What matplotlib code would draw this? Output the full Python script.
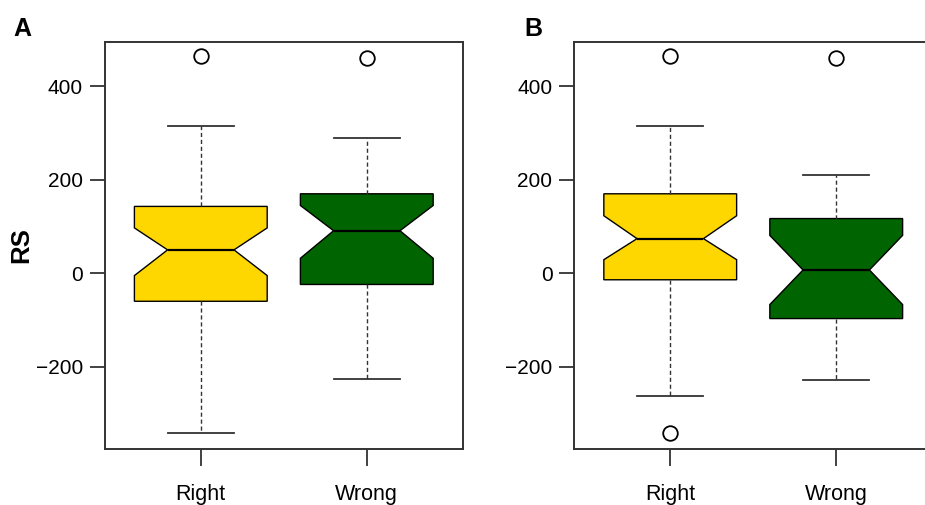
import matplotlib
matplotlib.use("Agg")
from matplotlib import pyplot as plt

plt.rcParams['font.family'] = ['Liberation Sans', 'DejaVu Sans']

groups = ["Right", "Wrong"]
box_colors = ["#FFD700", "#006400"]

# panel A: five-number summaries, notch limits and outliers
a_q1 = [-60, -24]
a_med = [50, 91]
a_q3 = [143, 170]
a_cilo = [-5, 32]
a_cihi = [97, 145]
a_whislo = [-341, -226]
a_whishi = [314, 290]
a_fliers = [[464], [461]]

# panel B
b_q1 = [-14, -97]
b_med = [74, 7]
b_q3 = [170, 117]
b_cilo = [29, -67]
b_cihi = [123, 81]
b_whislo = [-263, -228]
b_whishi = [314, 210]
b_fliers = [[464, -342], [461]]


def make_stats(q1, med, q3, cilo, cihi, whislo, whishi, fliers):
    stats = []
    for i in range(len(groups)):
        stats.append(dict(label=groups[i], q1=q1[i], med=med[i], q3=q3[i],
                          cilo=cilo[i], cihi=cihi[i], whislo=whislo[i],
                          whishi=whishi[i], fliers=fliers[i]))
    return stats


def draw_panel(ax, stats):
    bp = ax.bxp(stats, positions=[1, 2], widths=0.8, shownotches=True,
                patch_artist=True,
                boxprops=dict(edgecolor="black", linewidth=1.0),
                medianprops=dict(color="black", linewidth=1.6),
                whiskerprops=dict(color="#333333", linewidth=1.0,
                                  linestyle=(0, (3, 2))),
                capprops=dict(color="#333333", linewidth=1.3),
                flierprops=dict(marker="o", markersize=10.5,
                                markerfacecolor="none",
                                markeredgecolor="black", markeredgewidth=1.3,
                                linestyle="none"))
    for patch, c in zip(bp["boxes"], box_colors):
        patch.set_facecolor(c)
    ax.set_xlim(0.42, 2.58)
    ax.set_ylim(-376, 495)
    ax.set_yticks([-200, 0, 200, 400])
    ax.set_xticks([1, 2])
    ax.set_xticklabels(groups)
    ax.tick_params(axis="both", labelsize=15, color="#333333", width=1.3)
    ax.tick_params(axis="y", length=10.5, pad=5)
    ax.tick_params(axis="x", length=12, pad=13, labelsize=15.5)
    for s in ax.spines.values():
        s.set_linewidth(1.4)
        s.set_color("#333333")


fig = plt.figure(figsize=(9.25, 5.05), dpi=100)
ax1 = fig.add_axes([0.113, 0.111, 0.3876, 0.806])
ax2 = fig.add_axes([0.6205, 0.111, 0.3876, 0.806])

draw_panel(ax1, make_stats(a_q1, a_med, a_q3, a_cilo, a_cihi,
                           a_whislo, a_whishi, a_fliers))
draw_panel(ax2, make_stats(b_q1, b_med, b_q3, b_cilo, b_cihi,
                           b_whislo, b_whishi, b_fliers))

ax1.set_ylabel("RS", fontsize=18.5, fontweight="bold")
ax1.yaxis.set_label_coords(-0.2, 0.5)

fig.text(13 / 925, 1 - 36 / 505, "A", fontsize=18, fontweight="bold",
         ha="left", va="baseline")
fig.text(524 / 925, 1 - 36 / 505, "B", fontsize=18, fontweight="bold",
         ha="left", va="baseline")

plt.savefig("out.png", dpi=100)
